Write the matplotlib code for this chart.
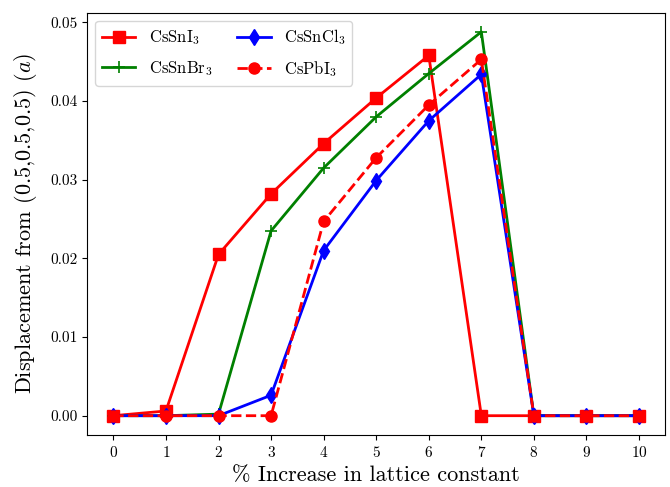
import matplotlib
matplotlib.use('Agg')
import matplotlib.pyplot as plt

plt.rcParams['font.family'] = 'serif'
plt.rcParams['font.serif'] = ['cmr10']
plt.rcParams['mathtext.fontset'] = 'cm'
plt.rcParams['axes.formatter.use_mathtext'] = True

x = [0, 1, 2, 3, 4, 5, 6, 7, 8, 9, 10]
cssni3 = [0, 0.0006, 0.0205, 0.0282, 0.0346, 0.0404, 0.0458, 0, 0, 0, 0]
cssnbr3 = [0, 0, 0.0002, 0.0235, 0.0315, 0.0380, 0.0435, 0.0488, 0, 0, 0]
cssncl3 = [0, 0, 0, 0.0026, 0.0210, 0.0299, 0.0375, 0.0434, 0, 0, 0]
cspbi3 = [0, 0, 0, 0, 0.0247, 0.0328, 0.0395, 0.0453, 0, 0, 0]

fig = plt.figure(figsize=(6.7, 4.87), dpi=100)
ax = fig.add_axes([0.130, 0.107, 0.863, 0.867])

ax.plot(x, cssni3, 'rs-', lw=2, markersize=8, label=r'CsSnI$_3$')
ax.plot(x, cssnbr3, 'g+-', lw=2, markersize=8, markeredgewidth=1.2, label=r'CsSnBr$_3$')
ax.plot(x, cssncl3, 'bd-', lw=2, markersize=8, label=r'CsSnCl$_3$')
ax.plot(x, cspbi3, 'ro--', lw=2, markersize=8, label=r'CsPbI$_3$')

ax.set_xticks(x)
ax.set_yticks([0, 0.01, 0.02, 0.03, 0.04, 0.05])
ax.set_yticklabels(['0.00', '0.01', '0.02', '0.03', '0.04', '0.05'])
ax.tick_params(labelsize=11)
ax.set_xlabel(r'% Increase in lattice constant', fontsize=16)
ax.set_ylabel(r'Displacement from $(0.5{,}0.5{,}0.5)$ $(a)$', fontsize=16, labelpad=8)
ax.legend(ncol=2, fontsize=12, loc='upper left', labelspacing=0.7, columnspacing=1.5)

fig.savefig('out.png', dpi=100)
